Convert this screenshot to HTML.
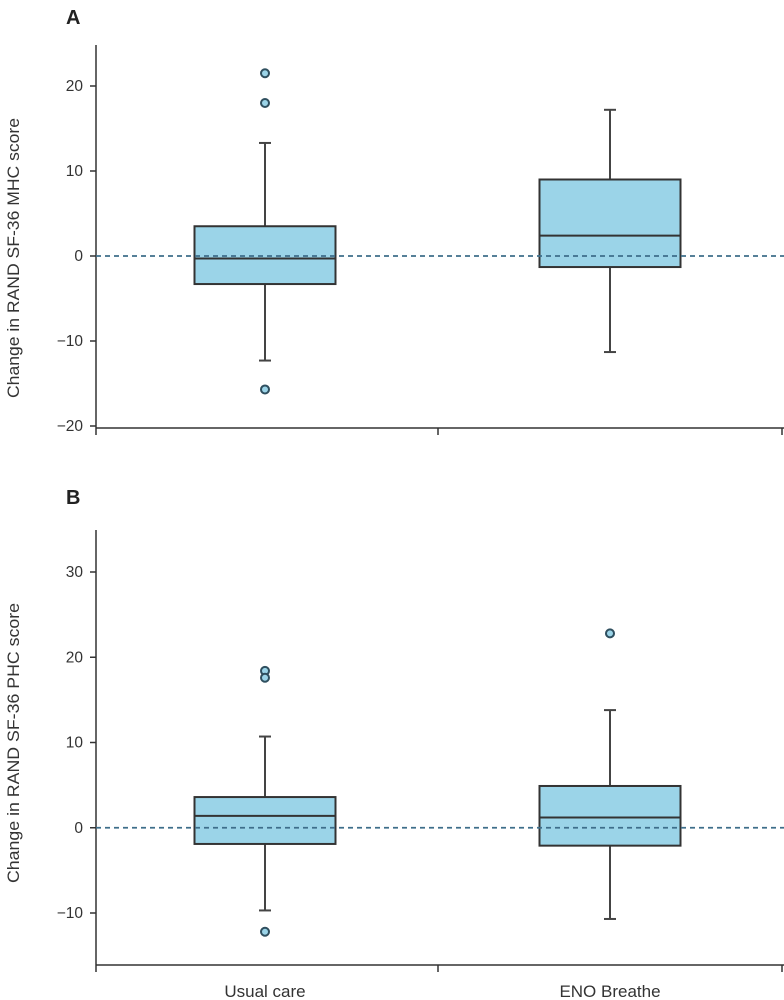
<!DOCTYPE html>
<html><head><meta charset="utf-8"><style>
body{margin:0;background:#fff}
svg{display:block;font-family:"Liberation Sans",sans-serif}
</style></head><body>
<svg id="chart" width="784" height="1000"></svg>
<script>
const categories=["Usual care","ENO Breathe"];
// panel A (MHC): [whiskerLow, q1, median, q3, whiskerHigh]
const statsA=[[-12.3,-3.3,-0.3,3.5,13.3],[-11.3,-1.3,2.4,9,17.2]];
const outliersA=[[21.5,18,-15.7],[]];
const ticksA=[-20,-10,0,10,20];
// panel B (PHC)
const statsB=[[-9.7,-1.9,1.4,3.6,10.7],[-10.7,-2.1,1.2,4.9,13.8]];
const outliersB=[[18.4,17.6,-12.2],[22.8]];
const ticksB=[-10,0,10,20,30];

const NS="http://www.w3.org/2000/svg";
const svg=document.getElementById('chart');
function mk(t,a,p){const e=document.createElementNS(NS,t);for(const k in a)e.setAttribute(k,a[k]);(p||svg).appendChild(e);return e;}
const xc=[265,610],bw=141;
function panel(id,letter,title,stats,outs,ticks,y0,y1,titleY,axisTop,axisY,letterY){
  const g=mk('g',{});
  
  
  const y=v=>y0+(v-ticks[0])*(y1-y0)/(ticks[ticks.length-1]-ticks[0]);
  const L=mk('text',{x:66,y:letterY,'font-size':20,'font-weight':'bold',fill:'#222'},g);L.textContent=letter;
  
  const ya=mk('line',{x1:96,x2:96,y1:axisTop,y2:axisY,stroke:'#333','stroke-width':1.5},g);
  
  const xa=mk('line',{x1:96,x2:784,y1:axisY,y2:axisY,stroke:'#333','stroke-width':1.5},g);
  
  [96,438,782].forEach(x=>mk('line',{x1:x,x2:x,y1:axisY,y2:axisY+7,stroke:'#333','stroke-width':1.5},g));
  ticks.forEach(t=>{mk('line',{x1:90,x2:96,y1:y(t),y2:y(t),stroke:'#333','stroke-width':1.5},g);
    const tx=mk('text',{x:83,y:y(t)+5,'text-anchor':'end','font-size':15.5,fill:'#333'},g);tx.textContent=t<0?'\u2212'+(-t):t;
    });
  const yt=mk('text',{transform:`translate(19,${titleY}) rotate(-90)`,'text-anchor':'middle','font-size':16.5,fill:'#333',textLength:280,lengthAdjust:'spacingAndGlyphs'},g);
  yt.textContent=title;
  stats.forEach((s,i)=>{const c=xc[i];
    const bg=mk('g',{},g);
    mk('line',{x1:c,x2:c,y1:y(s[0]),y2:y(s[4]),stroke:'#444','stroke-width':2},bg);
    mk('line',{x1:c-6,x2:c+6,y1:y(s[0]),y2:y(s[0]),stroke:'#444','stroke-width':2},bg);
    mk('line',{x1:c-6,x2:c+6,y1:y(s[4]),y2:y(s[4]),stroke:'#444','stroke-width':2},bg);
    mk('rect',{x:c-bw/2,y:y(s[3]),width:bw,height:y(s[1])-y(s[3]),fill:'#9bd4e8',stroke:'#333','stroke-width':2},bg);
    mk('line',{x1:c-bw/2,x2:c+bw/2,y1:y(s[2]),y2:y(s[2]),stroke:'#333','stroke-width':2},bg);
    outs[i].forEach(o=>{const p=mk('circle',{cx:c,cy:y(o),r:4,fill:'#9bd4e8',stroke:'#2f4f5f','stroke-width':2},bg);
      });
  });
  const z=mk('line',{x1:96,x2:784,y1:y(0),y2:y(0),stroke:'#3e6e8a','stroke-width':1.8,'stroke-dasharray':'5,4'},g);
  
}
panel('a','A','Change in RAND SF-36 MHC score',statsA,outliersA,ticksA,426,86,258,45,428,24);
panel('b','B','Change in RAND SF-36 PHC score',statsB,outliersB,ticksB,913,572,743,530,965,504);
categories.forEach((c,i)=>{const t=mk('text',{x:xc[i],y:997,'text-anchor':'middle','font-size':17,fill:'#333'});t.textContent=c;
  });
</script>
</body></html>
